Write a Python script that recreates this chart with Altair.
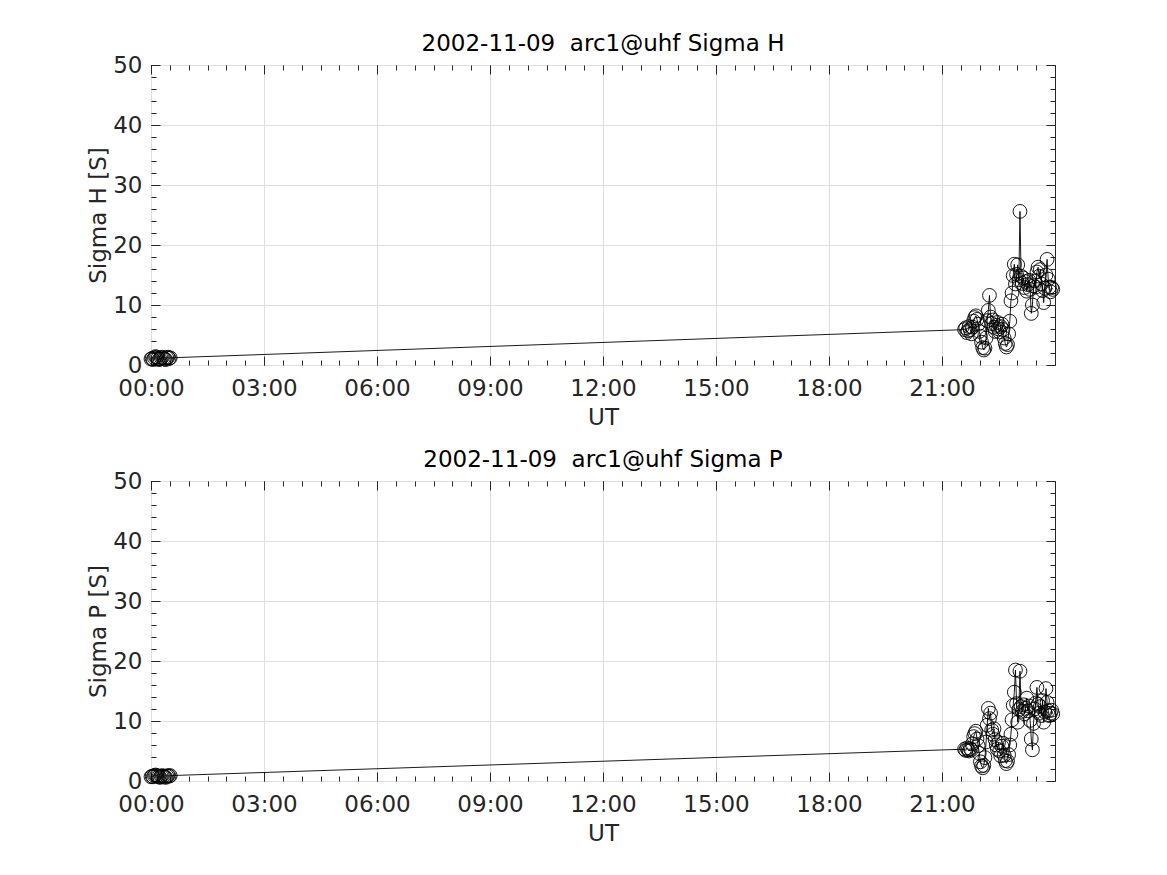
import altair as alt
import pandas as pd

HOURS = [0.00, 0.03, 0.06, 0.09, 0.12, 0.15, 0.18, 0.21, 0.24, 0.27, 0.30, 0.33,
         0.36, 0.39, 0.42, 0.45, 0.48, 0.51,
         21.60, 21.63, 21.66, 21.69, 21.72, 21.75, 21.78, 21.81, 21.84, 21.87,
         21.90, 21.93, 21.96, 21.99, 22.02, 22.05, 22.08, 22.11, 22.14, 22.17,
         22.20, 22.23, 22.26, 22.29, 22.32, 22.35, 22.38, 22.41, 22.44, 22.47,
         22.50, 22.53, 22.56, 22.59, 22.62, 22.65, 22.68, 22.71, 22.74, 22.77,
         22.80, 22.83, 22.86, 22.89, 22.92, 22.95, 22.98, 23.01, 23.04, 23.07,
         23.10, 23.13, 23.16, 23.19, 23.22, 23.25, 23.28, 23.31, 23.34, 23.37,
         23.40, 23.43, 23.46, 23.49, 23.52, 23.55, 23.58, 23.61, 23.64, 23.67,
         23.70, 23.73, 23.76, 23.79, 23.82, 23.85, 23.88, 23.91, 23.94]

SIGMA_H = [1.0, 1.1, 0.9, 1.2, 1.4, 1.3, 1.1, 0.9, 1.0, 1.2, 1.3, 1.1,
           1.0, 0.9, 1.2, 1.3, 1.1, 1.2,
           5.9, 6.2, 5.4, 5.7, 6.4, 5.9, 5.2, 6.3, 7.3, 7.9,
           8.2, 7.6, 6.8, 5.6, 4.8, 3.8, 2.9, 2.5, 2.8, 4.5,
           7.4, 9.1, 11.6, 8.0, 6.9, 7.5, 6.3, 5.6, 6.6, 7.1,
           6.0, 5.5, 6.4, 6.8, 5.9, 4.5, 3.6, 3.0, 3.4, 5.2,
           7.3, 10.7, 12.0, 14.9, 16.8, 13.5, 15.1, 16.7, 14.2, 25.6,
           14.8, 13.6, 14.5, 12.9, 13.9, 12.3, 13.4, 14.1, 12.6, 8.6,
           10.0, 13.2, 14.0, 13.0, 15.5, 16.3, 14.8, 15.9, 13.5, 12.4,
           10.4, 12.8, 15.0, 17.6, 14.3, 13.0, 12.2, 12.9, 12.6]

SIGMA_P = [0.7, 0.8, 0.7, 0.9, 1.0, 0.9, 0.8, 0.7, 0.6, 0.8, 0.9, 0.8,
           0.7, 0.6, 0.8, 0.9, 0.8, 0.9,
           5.3, 5.1, 5.5, 5.2, 5.0, 5.4, 5.2, 6.2, 7.4, 7.9,
           8.3, 7.0, 5.9, 4.6, 3.2, 2.5, 2.2, 2.6, 3.9, 6.5,
           9.3, 12.1, 10.4, 11.3, 8.5, 7.8, 8.7, 6.9, 6.0, 5.3,
           6.4, 5.0, 4.2, 5.8, 6.3, 4.3, 3.4, 2.9, 3.3, 4.4,
           6.0, 7.8, 10.2, 12.6, 14.8, 18.5, 12.9, 9.8, 11.9, 18.3,
           12.4, 11.6, 12.7, 11.2, 12.1, 13.8, 11.7, 12.5, 10.1, 7.0,
           5.2, 9.6, 12.0, 13.0, 15.6, 12.8, 11.3, 12.4, 10.9, 13.4,
           9.8, 11.5, 15.4, 13.1, 11.7, 10.9, 11.3, 11.8, 11.2]

X_MAJOR = [0, 3, 6, 9, 12, 15, 18, 21]
X_MINOR = [0, 0.5, 1, 1.5, 2, 2.5, 3, 3.5, 4, 4.5, 5, 5.5, 6, 6.5, 7, 7.5, 8, 8.5,
           9, 9.5, 10, 10.5, 11, 11.5, 12, 12.5, 13, 13.5, 14, 14.5, 15, 15.5,
           16, 16.5, 17, 17.5, 18, 18.5, 19, 19.5, 20, 20.5, 21, 21.5, 22, 22.5,
           23, 23.5, 24]
Y_MAJOR = [0, 10, 20, 30, 40, 50]
Y_MINOR = [0, 2, 4, 6, 8, 10, 12, 14, 16, 18, 20, 22, 24, 26, 28, 30, 32, 34,
           36, 38, 40, 42, 44, 46, 48, 50]

W, H = 904, 300
FONT = "DejaVu Sans"
INK = "#262626"


def panel(values, title, ytitle):
    df = pd.DataFrame({"UT": HOURS, "v": values})
    xs = alt.Scale(domain=[0, 24], nice=False, zero=False)
    ys = alt.Scale(domain=[0, 50], nice=False)
    base = alt.Chart(df)

    main = base.mark_line(color="black", strokeWidth=0.9).encode(
        x=alt.X("UT:Q", scale=xs, axis=alt.Axis(
            values=X_MAJOR, labelExpr="(datum.value < 10 ? '0' : '') + datum.value + ':00'",
            title="UT", grid=True, ticks=False, domain=False, labelPadding=12,
            labelFlush=False, labelOverlap=False, titlePadding=6)),
        y=alt.Y("v:Q", scale=ys, axis=alt.Axis(
            values=Y_MAJOR, title=ytitle, grid=True, ticks=False, domain=False,
            labelPadding=9, labelFlush=False, labelOverlap=False, titlePadding=2)),
    )
    pts = base.mark_point(shape="circle", filled=False, color="black",
                          size=190, strokeWidth=0.9, opacity=1).encode(
        x=alt.X("UT:Q", scale=xs, axis=None),
        y=alt.Y("v:Q", scale=ys, axis=None),
    )

    def ticks(xorient, yorient, xvals, yvals, size):
        return base.mark_point(opacity=0).encode(
            x=alt.X("UT:Q", scale=xs, axis=alt.Axis(
                orient=xorient, offset=-H, values=xvals, labels=False, domain=False,
                grid=False, tickSize=size, tickColor=INK, tickWidth=1, title=None)),
            y=alt.Y("v:Q", scale=ys, axis=alt.Axis(
                orient=yorient, offset=-W, values=yvals, labels=False, domain=False,
                grid=False, tickSize=size, tickColor=INK, tickWidth=1, title=None)),
        )

    layers = [
        main, pts,
        ticks("top", "right", X_MAJOR, Y_MAJOR, 9),
        ticks("top", "right", X_MINOR, Y_MINOR, 5),
        ticks("bottom", "left", X_MAJOR, Y_MAJOR, 9),
        ticks("bottom", "left", X_MINOR, Y_MINOR, 5),
    ]
    return alt.layer(*layers).resolve_axis(x="independent", y="independent").properties(
        width=W, height=H,
        title=alt.TitleParams(title, fontSize=23, font=FONT, fontWeight="normal",
                              color="black", offset=-2),
    )


top = panel(SIGMA_H, "2002-11-09\u00a0 arc1@uhf Sigma H", "Sigma H [S]")
bottom = panel(SIGMA_P, "2002-11-09\u00a0 arc1@uhf Sigma P", "Sigma P [S]")

chart = alt.vconcat(top, bottom, spacing=116, bounds="flush").properties(
    padding={"left": 79, "top": 24, "right": 10, "bottom": 10}
).configure_view(
    stroke=INK, strokeWidth=1
).configure_axis(
    labelFont=FONT, titleFont=FONT, labelFontSize=23, titleFontSize=23,
    labelColor=INK, titleColor=INK, titleFontWeight="normal",
    gridColor="#dedede", gridWidth=1,
)

chart.save("out.html", embed_options={"renderer": "svg", "actions": False})
